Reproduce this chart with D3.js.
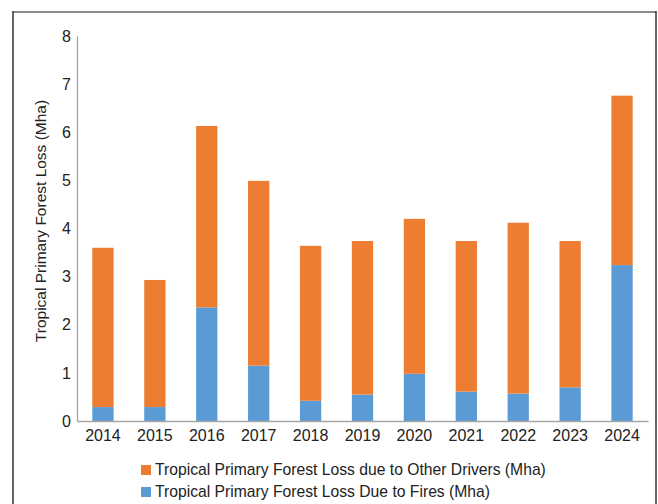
<!DOCTYPE html>
<html>
<head>
<meta charset="utf-8">
<script src="https://cdn.jsdelivr.net/npm/d3@7"></script>
<style>
  html, body { margin: 0; padding: 0; background: #fff; }
  svg { display: block; font-family: "Liberation Sans", Arial, sans-serif; }
</style>
</head>
<body>
<svg id="chart" width="658" height="504"></svg>
<script>
// Tropical primary forest loss by year (million hectares)
const years = ["2014", "2015", "2016", "2017", "2018", "2019", "2020", "2021", "2022", "2023", "2024"];
const fireLoss = [0.29, 0.29, 2.36, 1.15, 0.42, 0.55, 0.98, 0.61, 0.57, 0.70, 3.24];
const otherLoss = [3.31, 2.64, 3.77, 3.84, 3.22, 3.19, 3.22, 3.13, 3.55, 3.04, 3.52];
const yTicks = [0, 1, 2, 3, 4, 5, 6, 7, 8];

const seriesNames = [
  "Tropical Primary Forest Loss Due to Fires (Mha)",
  "Tropical Primary Forest Loss due to Other Drivers (Mha)"
];
const seriesColors = ["#5B9BD5", "#ED7D31"];

const svg = d3.select("#chart");

// Frame around the figure
svg.append("line").attr("x1", 13).attr("x2", 656).attr("y1", 12).attr("y2", 12)
  .attr("stroke", "#8c8c8c").attr("stroke-width", 2);
svg.append("line").attr("x1", 13).attr("x2", 13).attr("y1", 11).attr("y2", 504)
  .attr("stroke", "#333").attr("stroke-width", 1.5);
svg.append("line").attr("x1", 656).attr("x2", 656).attr("y1", 11).attr("y2", 504)
  .attr("stroke", "#333").attr("stroke-width", 1.5);

const x = d3.scaleBand().domain(years).range([77, 648]).paddingInner(0.59).paddingOuter(0.295);
const y = d3.scaleLinear().domain([0, 8]).range([421, 36]);

const rows = years.map((yr, i) => ({ year: yr, fire: fireLoss[i], other: otherLoss[i] }));
const stacked = d3.stack().keys(["fire", "other"])(rows);

svg.append("g").selectAll("g")
  .data(stacked)
  .join("g")
  .attr("fill", (d, i) => seriesColors[i])
  .selectAll("rect")
  .data(d => d)
  .join("rect")
  .attr("x", d => x(d.data.year))
  .attr("width", x.bandwidth())
  .attr("y", d => y(d[1]))
  .attr("height", d => y(d[0]) - y(d[1]));

// Y axis
const yAxis = svg.append("g").attr("transform", "translate(77,0)")
  .call(d3.axisLeft(y).tickValues(yTicks).tickSize(0).tickPadding(6).tickFormat(d3.format("d")));
yAxis.select(".domain").attr("stroke", "#a6a6a6").attr("stroke-width", 1.3);
yAxis.selectAll("text").attr("font-size", 16).attr("fill", "#222").attr("font-family", "Liberation Sans, Arial, sans-serif");

// X axis
const xAxis = svg.append("g").attr("transform", "translate(0,421)")
  .call(d3.axisBottom(x).tickSize(0).tickPadding(9));
xAxis.select(".domain").attr("stroke", "#a6a6a6").attr("stroke-width", 1.3);
xAxis.selectAll("text").attr("font-size", 16).attr("fill", "#222").attr("font-family", "Liberation Sans, Arial, sans-serif");

// Y axis title
svg.append("text")
  .attr("transform", "translate(46,221) rotate(-90)")
  .attr("text-anchor", "middle")
  .attr("font-size", 15.5)
  .attr("fill", "#222")
  .text("Tropical Primary Forest Loss (Mha)");

// Legend: other drivers on top, fires below
const legendOrder = [1, 0];
const legend = svg.append("g");
legendOrder.forEach((si, row) => {
  const ly = 465 + row * 22;
  legend.append("rect").attr("x", 141).attr("y", ly).attr("width", 10).attr("height", 10)
    .attr("fill", seriesColors[si]);
  legend.append("text").attr("x", 155).attr("y", ly + 9.5)
    .attr("font-size", 15.7).attr("fill", "#222")
    .text(seriesNames[si]);
});
</script>
</body>
</html>
